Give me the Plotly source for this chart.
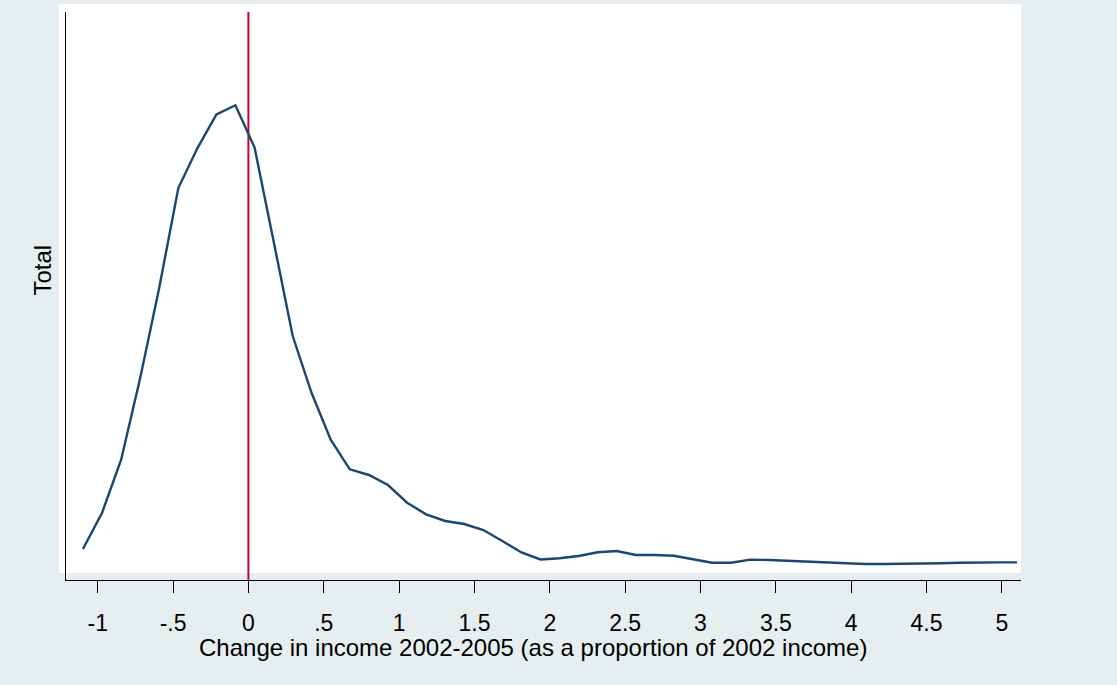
import plotly.graph_objects as go

# Kernel density of the change in income, evaluated on a 50-point grid
income_change = [
    -1.098, -0.971, -0.845, -0.718, -0.592, -0.465, -0.339, -0.212, -0.086, 0.041,
    0.167, 0.294, 0.420, 0.547, 0.673, 0.800, 0.926, 1.053, 1.179, 1.306,
    1.432, 1.559, 1.685, 1.812, 1.938, 2.065, 2.191, 2.318, 2.444, 2.571,
    2.697, 2.824, 2.950, 3.077, 3.203, 3.330, 3.456, 3.583, 3.709, 3.836,
    3.962, 4.089, 4.215, 4.342, 4.468, 4.595, 4.721, 4.848, 4.974, 5.100,
]
density_total = [
    0.0491, 0.1066, 0.1901, 0.3201, 0.4627, 0.6211, 0.6840, 0.7379, 0.7522, 0.6853,
    0.5371, 0.3866, 0.2958, 0.2218, 0.1754, 0.1664, 0.1505, 0.1225, 0.1041, 0.0935,
    0.0887, 0.0792, 0.0618, 0.0436, 0.0325, 0.0344, 0.0380, 0.0439, 0.0460, 0.0396,
    0.0396, 0.0385, 0.0328, 0.0274, 0.0274, 0.0322, 0.0317, 0.0306, 0.0285, 0.0285,
    0.0265, 0.0254, 0.0254, 0.0254, 0.0254, 0.0265, 0.0274, 0.0280, 0.0280, 0.0280,
]

tick_values = [-1, -0.5, 0, 0.5, 1, 1.5, 2, 2.5, 3, 3.5, 4, 4.5, 5]
tick_labels = ["-1", "-.5", "0", ".5", "1", "1.5", "2", "2.5", "3", "3.5", "4", "4.5", "5"]

reference_x = 0  # vertical reference line (no change in income)

BG = "#E6EEF0"
NAVY = "#1A476F"
RED = "#C8002E"
FONT = "Liberation Sans, Arial, sans-serif"

fig = go.Figure()
fig.add_trace(go.Scatter(
    x=income_change, y=density_total, mode="lines",
    line=dict(color=NAVY, width=2.4), showlegend=False, hoverinfo="skip",
))

fig.update_layout(
    width=1117, height=685,
    margin=dict(l=66, r=96, t=12, b=105),
    paper_bgcolor=BG,
    plot_bgcolor="rgba(0,0,0,0)",
    font=dict(family=FONT, size=23, color="black"),
    xaxis=dict(
        range=[-1.2104, 5.1267],
        tickmode="array", tickvals=tick_values, ticktext=tick_labels,
        ticks="outside", ticklen=12, tickwidth=1, tickcolor="black",
        ticklabelstandoff=10,
        showline=True, linecolor="black", linewidth=1,
        showgrid=False, zeroline=False,
        tickfont=dict(size=23),
    ),
    yaxis=dict(
        range=[0, 0.9],
        showticklabels=False, ticks="",
        showline=True, linecolor="black", linewidth=1,
        showgrid=False, zeroline=False,
    ),
    shapes=[
        # white plot region (slightly offset from the axes)
        dict(type="rect", xref="paper", yref="paper",
             x0=-0.00733, x1=1.0, y0=0.01232, y1=1.01408,
             fillcolor="white", line=dict(width=0), layer="below"),
        dict(type="line", xref="x", yref="paper",
             x0=reference_x, x1=reference_x, y0=0, y1=1,
             line=dict(color=RED, width=2), layer="below"),
    ],
    annotations=[
        dict(text="Change in income 2002-2005 (as a proportion of 2002 income)",
             xref="paper", yref="paper", x=0.4895, y=-0.1197,
             xanchor="center", yanchor="middle", showarrow=False,
             font=dict(size=24)),
        dict(text="Total", xref="paper", yref="paper", x=-0.0251, y=0.5449,
             xanchor="center", yanchor="middle", textangle=-90, showarrow=False,
             font=dict(size=24)),
    ],
)

fig.write_html("out.html")
